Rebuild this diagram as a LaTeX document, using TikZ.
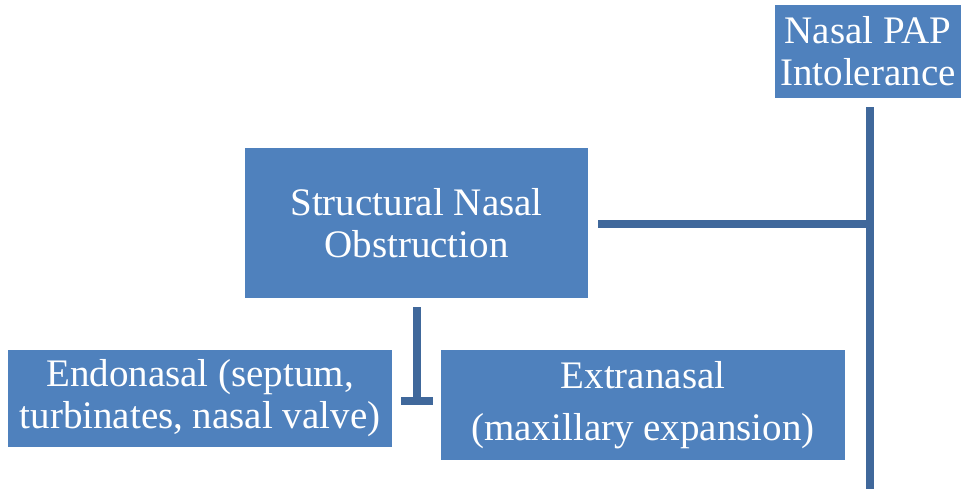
\documentclass[tikz,border=0pt]{standalone}
\usepackage{fontspec}
\setmainfont{Liberation Serif}
\definecolor{boxblue}{RGB}{79,129,189}
\definecolor{lineblue}{RGB}{64,104,155}
\tikzset{
  box/.style={fill=boxblue, draw=none, inner sep=0pt, text=white, align=center,
    font=\fontsize{39}{42}\selectfont},
  link/.style={draw=lineblue, line width=8.5pt}
}
\begin{document}
\begin{tikzpicture}[x=1pt, y=-1pt]
  \useasboundingbox (0,0) rectangle (961,488);
  % boxes
  \node[box, minimum width=186pt, minimum height=93pt] (pap) at (868,51.5)
    {Nasal PAP\\Intolerance};
  \node[box, minimum width=343pt, minimum height=150pt] (struct) at (416.5,223)
    {Structural Nasal\\Obstruction};
  \node[box, minimum width=384pt, minimum height=97pt] (endo) at (200,398.5)
    {Endonasal (septum,\\turbinates, nasal valve)};
  \node[box, minimum width=404pt, minimum height=110pt] (extra) at (643,405)
    {Extranasal\\[10pt](maxillary expansion)};
  % connector points
  \coordinate (trunktop) at (870,107);
  \coordinate (trunkbot) at (870,490);
  \coordinate (join) at (870,224);
  \coordinate (hstart) at (598,224);
  \coordinate (stemtop) at (417,307);
  \coordinate (stembot) at (417,401);
  \coordinate (barL) at (401,401);
  \coordinate (barR) at (433,401);
  % connectors
  \draw[link] (trunktop) -- (trunkbot);
  \draw[link] (hstart) -- (join);
  \draw[link] (stemtop) -- (stembot);
  \draw[link] (barL) -- (barR);
\end{tikzpicture}
\end{document}
